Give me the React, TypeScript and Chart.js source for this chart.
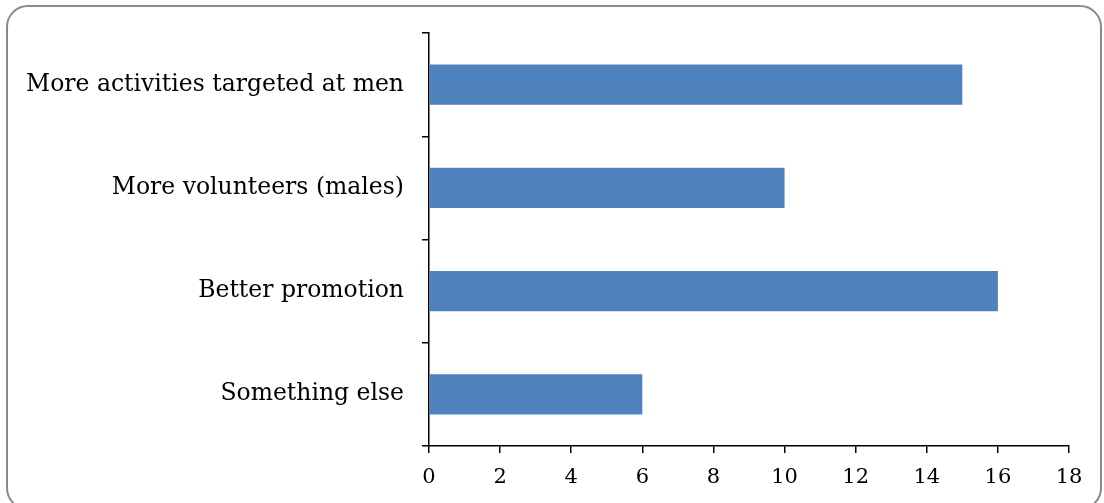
import React, { useEffect, useRef } from "react";
import { Chart, registerables } from "chart.js";

Chart.register(...registerables);

const categories = [
  "More activities targeted at men",
  "More volunteers (males)",
  "Better promotion",
  "Something else",
];
const values = [15, 10, 16, 6];
const xMin = 0;
const xMax = 18;
const xStep = 2;

export default function App() {
  const ref = useRef<HTMLCanvasElement | null>(null);

  useEffect(() => {
    document.body.style.margin = "0";
    const canvas = ref.current;
    if (!canvas) return;
    const xFont = { family: "'DejaVu Serif', serif", size: 21 };
    const yFont = { family: "'DejaVu Serif', serif", size: 23.5 };
    const chart = new Chart(canvas, {
      type: "bar",
      data: {
        labels: categories,
        datasets: [
          {
            data: values,
            backgroundColor: "#4F81BD",
            borderWidth: 0,
            barPercentage: 0.39,
            categoryPercentage: 1,
          },
        ],
      },
      options: {
        indexAxis: "y",
        animation: false,
        responsive: false,
        maintainAspectRatio: false,
        layout: { padding: { top: 33, right: 35, left: 0, bottom: 0 } },
        plugins: { legend: { display: false }, tooltip: { enabled: false } },
        scales: {
          x: {
            min: xMin,
            max: xMax,
            ticks: { stepSize: xStep, color: "#000", font: xFont, padding: 12 },
            grid: {
              drawOnChartArea: false,
              drawTicks: true,
              tickLength: 7,
              color: "#000",
              lineWidth: 1.5,
            },
            border: { color: "#000", width: 1.5 },
            afterFit: (s: any) => {
              s.height = 503 - 33 - 413;
            },
          },
          y: {
            ticks: { color: "#000", font: yFont, padding: 18 },
            grid: {
              drawOnChartArea: false,
              drawTicks: true,
              tickLength: 7,
              color: "#000",
              lineWidth: 1.5,
              offset: true,
            },
            border: { color: "#000", width: 1.5 },
            afterFit: (s: any) => {
              s.width = 429;
            },
          },
        },
      },
    });
    return () => chart.destroy();
  }, []);

  return (
    <div style={{ position: "relative", width: 1104, height: 503, overflow: "hidden", background: "#fff" }}>
      <div
        style={{
          position: "absolute",
          left: 6,
          top: 5,
          width: 1096,
          height: 505,
          border: "2px solid #8a8a8a",
          borderRadius: 22,
          boxSizing: "border-box",
        }}
      />
      <canvas ref={ref} width={1104} height={503} style={{ position: "absolute", left: 0, top: 0 }} />
    </div>
  );
}
